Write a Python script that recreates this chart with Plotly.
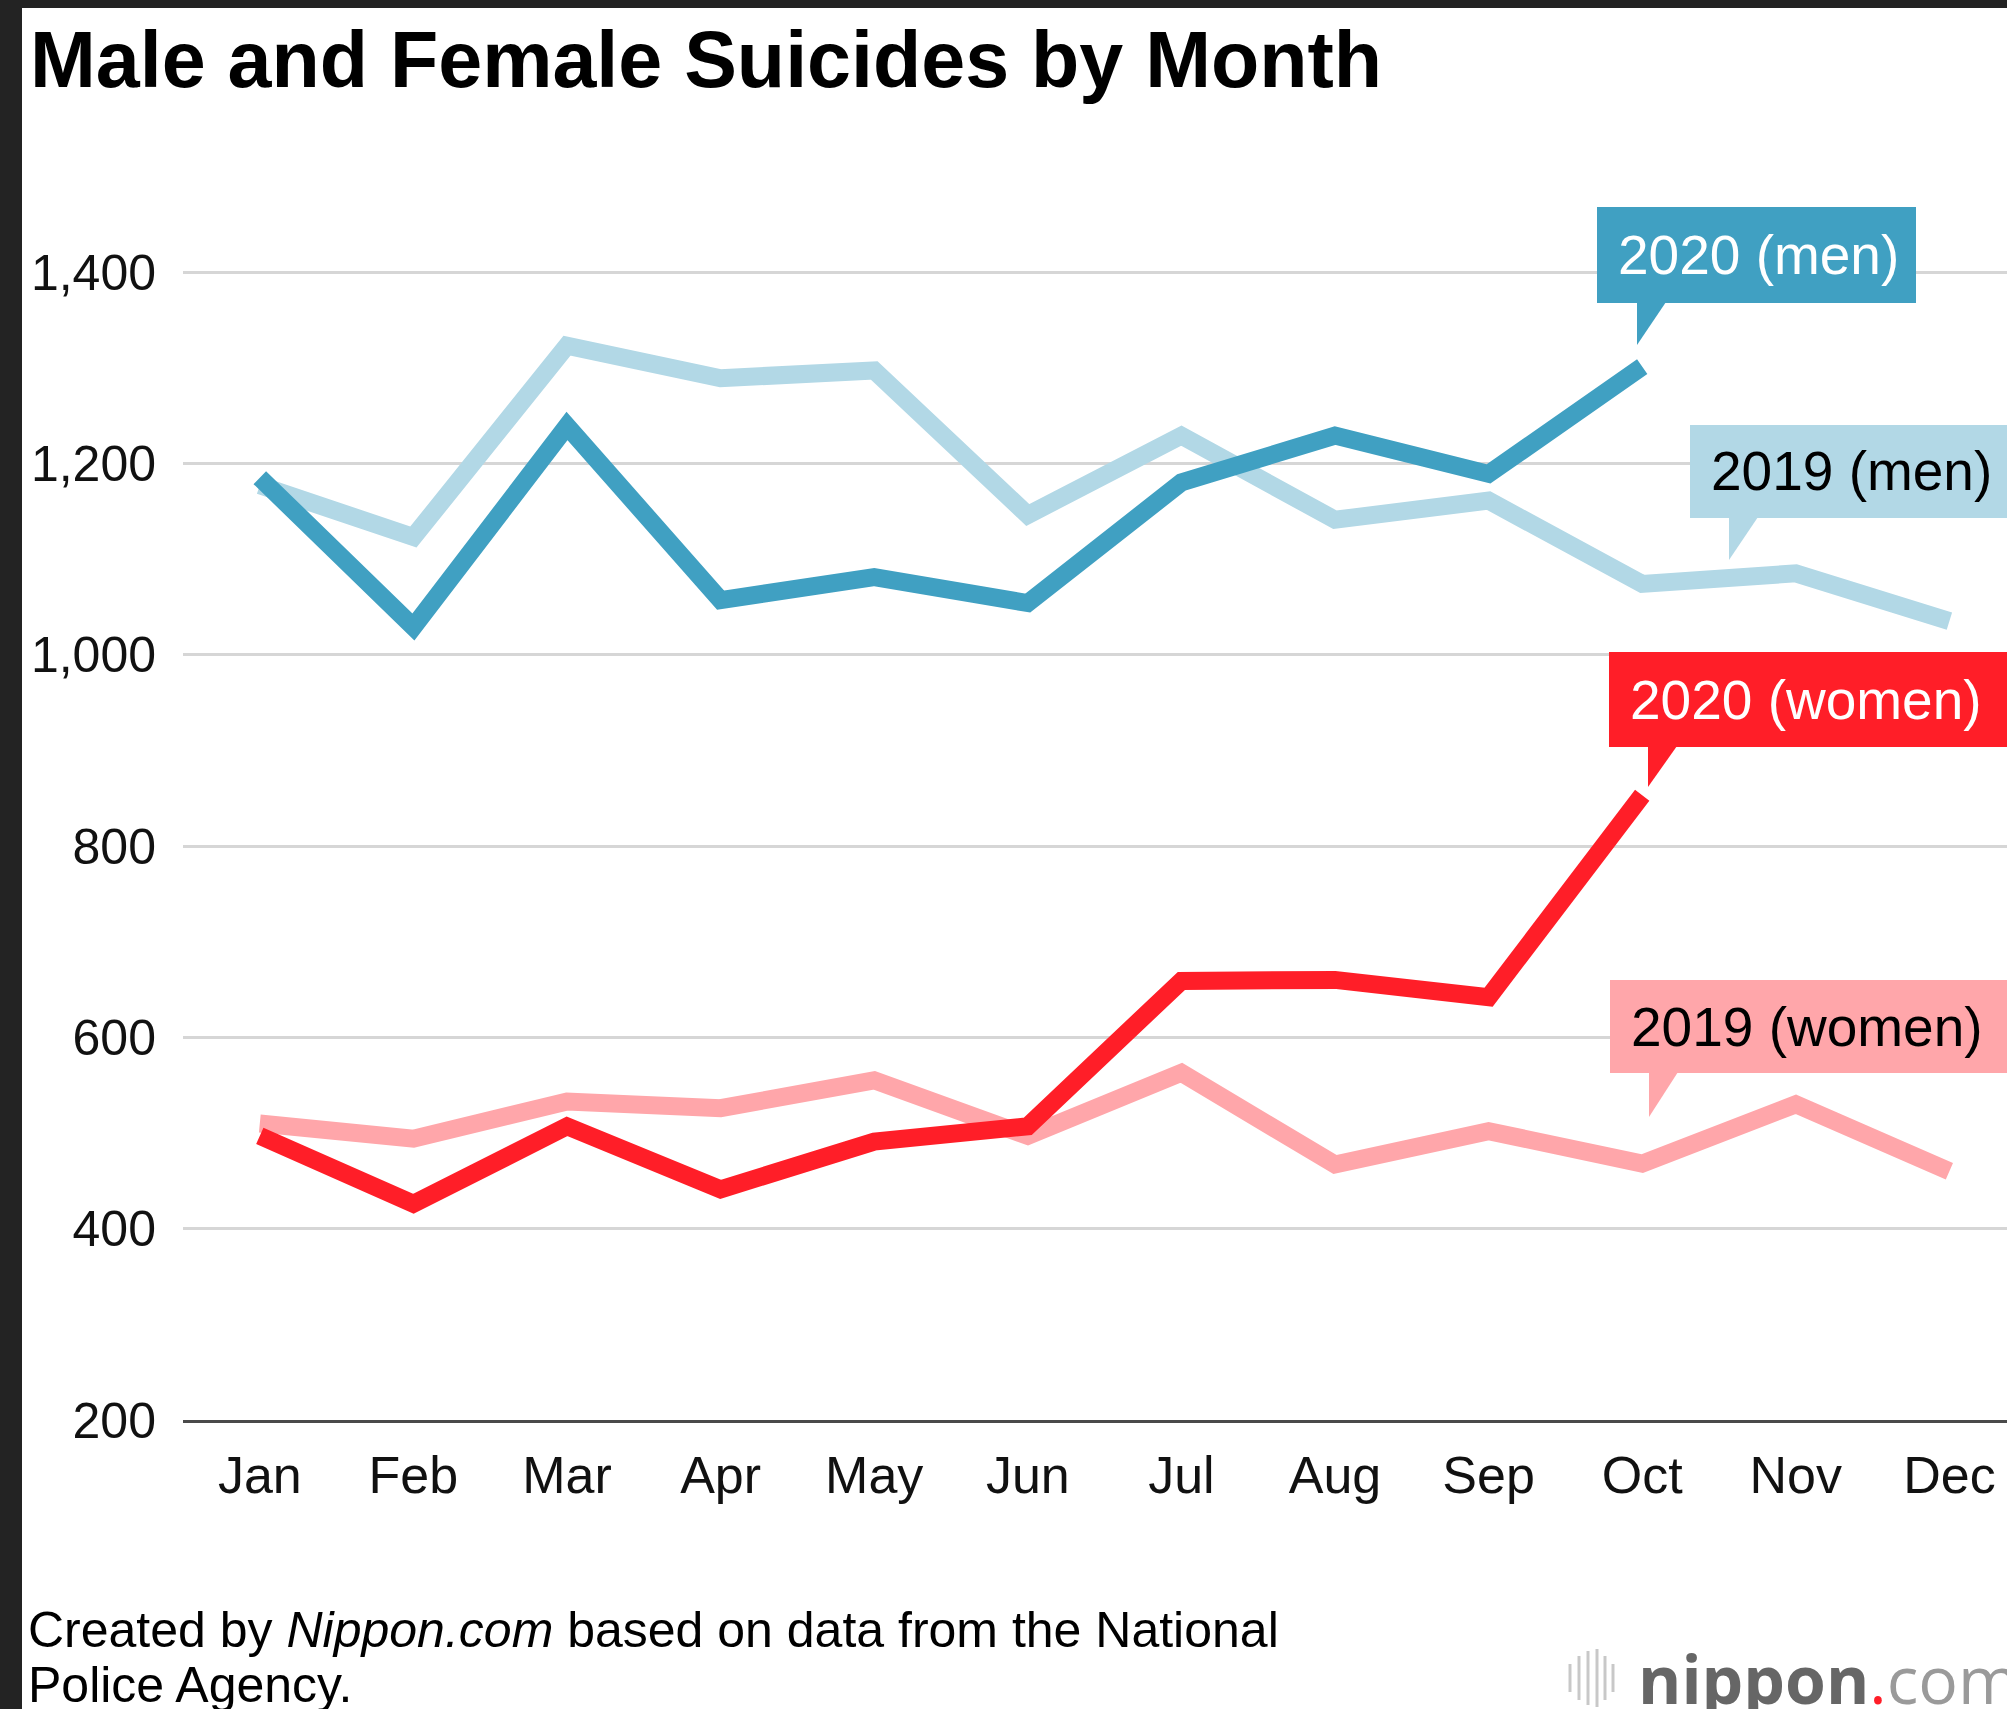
import plotly.graph_objects as go

# ---------------- data ----------------
months = ["Jan", "Feb", "Mar", "Apr", "May", "Jun", "Jul", "Aug", "Sep", "Oct", "Nov", "Dec"]
men_2019 = [1177, 1123, 1323, 1289, 1297, 1146, 1229, 1141, 1161, 1074, 1085, 1035]
men_2020 = [1185, 1029, 1239, 1057, 1081, 1054, 1180, 1229, 1189, 1301]
women_2019 = [510, 494, 533, 526, 555, 497, 563, 467, 502, 468, 530, 460]
women_2020 = [497, 426, 507, 441, 491, 507, 659, 660, 642, 853]
y_ticks = [200, 400, 600, 800, 1000, 1200, 1400]

C_MEN20 = "#40A0C2"
C_MEN19 = "#B2D8E6"
C_WOM20 = "#FF1E28"
C_WOM19 = "#FFA6AA"

W, H = 2007, 1709
L, R, T, B = 183, 2007, 150, 1420
FONT = "Liberation Sans, Arial, Helvetica, sans-serif"


def fx(px):
    return (px - L) / (R - L)


def fy(py):
    return (B - py) / (B - T)


fig = go.Figure()
for name, vals, col in [("2019 (men)", men_2019, C_MEN19),
                        ("2019 (women)", women_2019, C_WOM19),
                        ("2020 (men)", men_2020, C_MEN20),
                        ("2020 (women)", women_2020, C_WOM20)]:
    fig.add_trace(go.Scatter(x=months[:len(vals)], y=vals, mode="lines", name=name,
                             line=dict(color=col, width=18), hoverinfo="skip",
                             showlegend=False))

shapes = []
annotations = []

# callouts: (text, box x0, x1, y0, y1, color, text color, tip x, tip height)
callouts = [
    ("2020 (men)", 1597, 1916, 207, 303, C_MEN20, "white", 1637, 42),
    ("2019 (men)", 1690, 2040, 425, 518, C_MEN19, "black", 1729, 42),
    ("2020 (women)", 1609, 2040, 652, 747, C_WOM20, "white", 1648, 40),
    ("2019 (women)", 1610, 2040, 980, 1073, C_WOM19, "black", 1649, 44),
]
for text, x0, x1, y0, y1, col, tcol, tipx, tiph in callouts:
    shapes.append(dict(type="rect", xref="paper", yref="paper",
                       x0=fx(x0), x1=fx(x1), y0=fy(y1), y1=fy(y0),
                       fillcolor=col, line=dict(width=0), layer="above"))
    path = "M {} {} L {} {} L {} {} Z".format(fx(tipx), fy(y1 - 1), fx(tipx + 29), fy(y1 - 1),
                                             fx(tipx), fy(y1 + tiph))
    shapes.append(dict(type="path", xref="paper", yref="paper", path=path,
                       fillcolor=col, line=dict(width=0), layer="above"))
    annotations.append(dict(text=text, xref="paper", yref="paper",
                            x=fx(x0 + 19), y=fy((y0 + y1) / 2), xanchor="left", yanchor="middle",
                            showarrow=False, font=dict(family=FONT, size=55, color=tcol)))

# title
annotations.append(dict(text="<b>Male and Female Suicides by Month</b>", xref="paper", yref="paper",
                        x=fx(28), y=fy(60), xanchor="left", yanchor="middle", showarrow=False,
                        font=dict(family=FONT, size=79, color="black")))
# footer
annotations.append(dict(text="Created by <i>Nippon.com</i> based on data from the National",
                        xref="paper", yref="paper", x=fx(26), y=fy(1630), xanchor="left",
                        yanchor="middle", showarrow=False,
                        font=dict(family=FONT, size=50, color="black")))
annotations.append(dict(text="Police Agency.", xref="paper", yref="paper", x=fx(26), y=fy(1685),
                        xanchor="left", yanchor="middle", showarrow=False,
                        font=dict(family=FONT, size=50, color="black")))
# logo text
annotations.append(dict(text="<b>nippon</b><span style='color:#FF1E28'>.</span>"
                             "<span style='color:#9a9a9a'>com</span>",
                        xref="paper", yref="paper", x=fx(1636), y=fy(1678), xanchor="left",
                        yanchor="middle", showarrow=False,
                        font=dict(family="Open Sans, Noto Sans, sans-serif", size=66, color="#666666")))

# logo wave bars
bars = [(1570, 28), (1579, 44), (1588, 54), (1597, 58), (1605, 44), (1613, 28)]
for bx, bh in bars:
    shapes.append(dict(type="line", xref="paper", yref="paper",
                       x0=fx(bx), x1=fx(bx), y0=fy(1678 + bh / 2), y1=fy(1678 - bh / 2),
                       line=dict(color="#c8c8c8", width=3), layer="above"))

# dark frame strips
shapes.append(dict(type="rect", xref="paper", yref="paper", x0=fx(-5), x1=fx(22), y0=fy(1720),
                   y1=fy(-5), fillcolor="#232323", line=dict(width=0), layer="above"))
shapes.append(dict(type="rect", xref="paper", yref="paper", x0=fx(-5), x1=fx(2020), y0=fy(8),
                   y1=fy(-5), fillcolor="#232323", line=dict(width=0), layer="above"))

fig.update_layout(
    width=W, height=H,
    margin=dict(l=L, r=W - R, t=T, b=H - B),
    paper_bgcolor="white", plot_bgcolor="white",
    font=dict(family=FONT, color="#111111"),
    shapes=shapes, annotations=annotations,
    showlegend=False,
)
fig.update_xaxes(type="category", categoryorder="array", categoryarray=months,
                 range=[-0.5, 11.375], showgrid=False, zeroline=False,
                 showline=True, linecolor="#4a4a4a", linewidth=3, ticks="",
                 tickfont=dict(family=FONT, size=52, color="#111111"),
                 ticklabelstandoff=8, fixedrange=True)
fig.update_yaxes(range=[200, 200 + (B - T) / (1148 / 1200)], tickvals=y_ticks, tickformat=",",
                 showgrid=True, gridcolor="#d6d6d6", gridwidth=3, zeroline=False,
                 showline=False, ticks="",
                 tickfont=dict(family=FONT, size=50, color="#111111"),
                 ticklabelstandoff=26, fixedrange=True)

fig.write_html("out.html", config={"displayModeBar": False},
               post_script="document.body.style.margin='0px';"
                           "document.body.style.overflow='hidden';")
